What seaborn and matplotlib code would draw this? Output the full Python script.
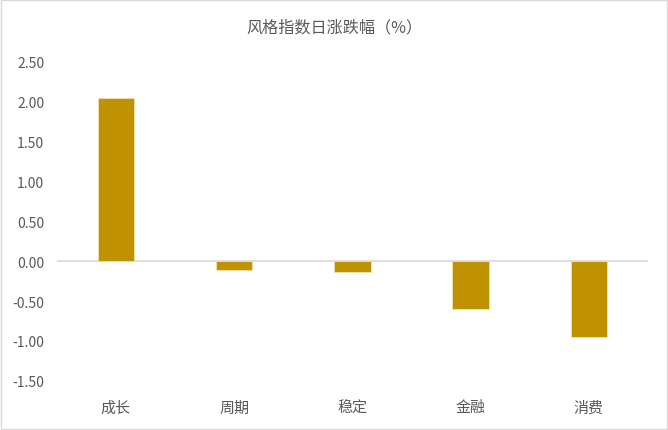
import matplotlib
matplotlib.use("Agg")
import matplotlib.pyplot as plt
import matplotlib.patches as mpatches
import pandas as pd
import seaborn as sns

categories = ["成长", "周期", "稳定", "金融", "消费"]
values = [2.05, -0.11, -0.14, -0.60, -0.95]
yticks = [-1.5, -1.0, -0.5, 0.0, 0.5, 1.0, 1.5, 2.0, 2.5]

sns.set_theme(style="white")
plt.rcParams["font.family"] = ["Noto Sans CJK SC", "DejaVu Sans"]

df = pd.DataFrame({"cat": categories, "val": values})

fig = plt.figure(figsize=(6.68, 4.31), dpi=100)
ax = fig.add_axes([0.085, 0.114, 0.885, 0.740])

sns.barplot(data=df, x="cat", y="val", color="#C09100", saturation=1,
            width=0.31, edgecolor="#F3E2B0", linewidth=0.6, ax=ax)

ax.set_ylim(-1.5, 2.5)
ax.set_xlim(-0.5, 4.5)
ax.set_yticks(yticks)
ax.set_yticklabels([f"{t:.2f}" for t in yticks])
ax.axhline(0, color="#D9D9D9", linewidth=1.2, zorder=0)
for s in ax.spines.values():
    s.set_visible(False)
ax.tick_params(axis="both", length=0, colors="#595959", labelsize=10)
ax.tick_params(axis="x", pad=14, labelsize=10.8)
ax.tick_params(axis="y", pad=9)
ax.set_xlabel("")
ax.set_ylabel("")

fig.text(0.5, 0.935, "风格指数日涨跌幅（%）", ha="center", va="center",
         fontsize=11.6, color="#595959")

fig.patches.append(mpatches.Rectangle((0.002, 0.002), 0.996, 0.996,
                   transform=fig.transFigure, fill=False,
                   edgecolor="#D9D9D9", linewidth=1))

fig.savefig("out.png", dpi=100)
